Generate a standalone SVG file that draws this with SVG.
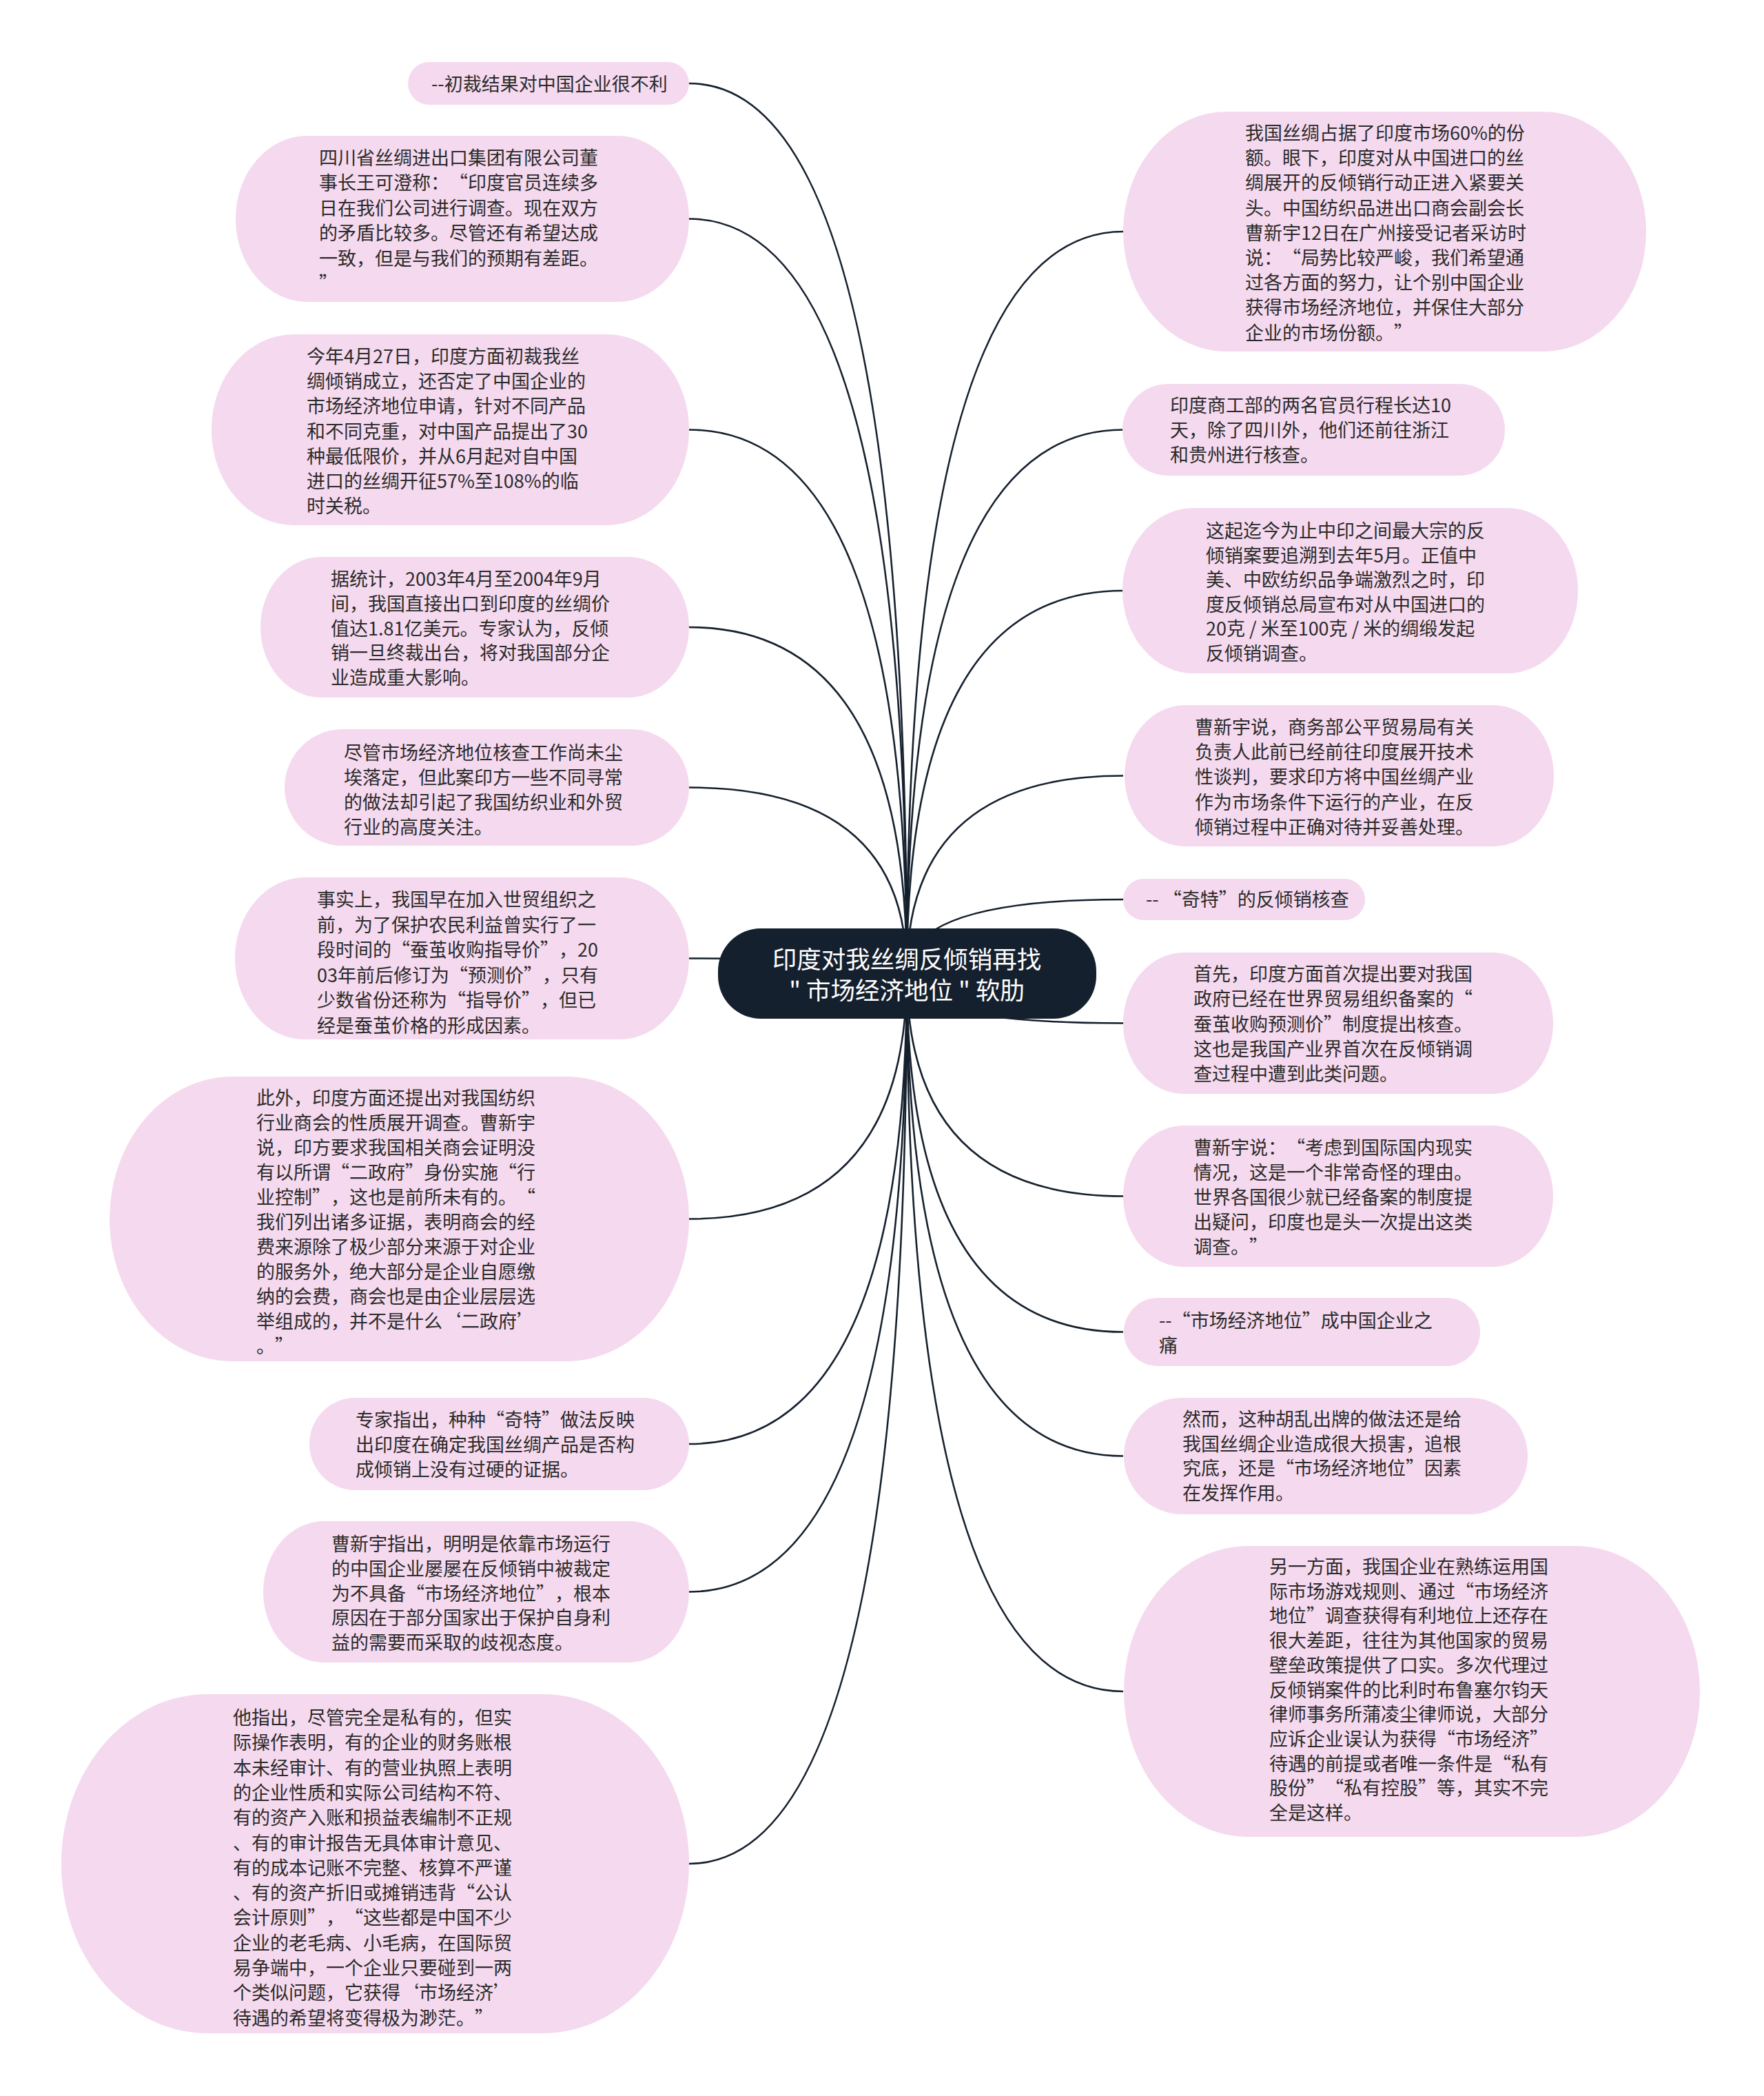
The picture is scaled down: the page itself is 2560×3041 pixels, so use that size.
<svg xmlns="http://www.w3.org/2000/svg" width="2560" height="3041" viewBox="0 0 2560 3041">
<style>
.bg{fill:#ffffff}
.conn path{fill:none;stroke:#15202e;stroke-width:2.6}
.node rect{fill:#f5d9ee}
.node text{font-family:"Noto Sans CJK SC","Microsoft YaHei","Noto Sans",sans-serif;font-size:27px;fill:#2b2b2b;text-spacing-trim:space-all}
.root rect{fill:#15202e}
.root text{font-family:"Noto Sans CJK SC","Microsoft YaHei","Noto Sans",sans-serif;font-size:35.5px;fill:#ffffff;text-anchor:middle}
</style>
<rect class="bg" x="0" y="0" width="2560" height="3041"/>
<g id="connectors" class="conn">
<path d="M1316 1412 Q1316 121 1000 121"/>
<path d="M1316 1412 Q1316 317.5 1000 317.5"/>
<path d="M1316 1412 Q1316 623.5 1000 623.5"/>
<path d="M1316 1412 Q1316 910 1000 910"/>
<path d="M1316 1412 Q1316 1142.5 1000 1142.5"/>
<path d="M1316 1412 Q1316 1390.5 1000 1390.5"/>
<path d="M1316 1412 Q1316 1768.5 1000 1768.5"/>
<path d="M1316 1412 Q1316 2095 1000 2095"/>
<path d="M1316 1412 Q1316 2309.5 1000 2309.5"/>
<path d="M1316 1412 Q1316 2704 1000 2704"/>
<path d="M1316 1412 Q1316 336 1630 336"/>
<path d="M1316 1412 Q1316 623.5 1630 623.5"/>
<path d="M1316 1412 Q1316 857 1630 857"/>
<path d="M1316 1412 Q1316 1125.5 1630 1125.5"/>
<path d="M1316 1412 Q1316 1305 1630 1305"/>
<path d="M1316 1412 Q1316 1484.5 1630 1484.5"/>
<path d="M1316 1412 Q1316 1735.5 1630 1735.5"/>
<path d="M1316 1412 Q1316 1932.5 1630 1932.5"/>
<path d="M1316 1412 Q1316 2112.5 1630 2112.5"/>
<path d="M1316 1412 Q1316 2454 1630 2454"/>
</g>
<g id="root" class="root">
<rect x="1042" y="1347" width="549" height="131" rx="62" ry="62"/>
<text x="1316" y="1405">印度对我丝绸反倾销再找</text>
<text x="1316" y="1450">" 市场经济地位 " 软肋</text>
</g>
<g id="n-l1" class="node">
<rect x="592" y="90" width="408" height="62" rx="31"/>
<text x="626" y="132">--初裁结果对中国企业很不利</text>
</g>
<g id="n-l2" class="node">
<rect x="342" y="197" width="658" height="241" rx="104" ry="120"/>
<text x="463" y="239"><tspan x="463" dy="0">四川省丝绸进出口集团有限公司董</tspan><tspan x="463" dy="36.4">事长王可澄称：“印度官员连续多</tspan><tspan x="463" dy="36.4">日在我们公司进行调查。现在双方</tspan><tspan x="463" dy="36.4">的矛盾比较多。尽管还有希望达成</tspan><tspan x="463" dy="36.4">一致，但是与我们的预期有差距。</tspan><tspan x="463" dy="36.4">”</tspan></text>
</g>
<g id="n-l3" class="node">
<rect x="307" y="485" width="693" height="277" rx="119" ry="138"/>
<text x="445" y="527"><tspan x="445" dy="0">今年4月27日，印度方面初裁我丝</tspan><tspan x="445" dy="36.2">绸倾销成立，还否定了中国企业的</tspan><tspan x="445" dy="36.2">市场经济地位申请，针对不同产品</tspan><tspan x="445" dy="36.2">和不同克重，对中国产品提出了30</tspan><tspan x="445" dy="36.2">种最低限价，并从6月起对自中国</tspan><tspan x="445" dy="36.2">进口的丝绸开征57%至108%的临</tspan><tspan x="445" dy="36.2">时关税。</tspan></text>
</g>
<g id="n-l4" class="node">
<rect x="378" y="808" width="622" height="204" rx="88" ry="102"/>
<text x="480" y="850"><tspan x="480" dy="0">据统计，2003年4月至2004年9月</tspan><tspan x="480" dy="35.8">间，我国直接出口到印度的丝绸价</tspan><tspan x="480" dy="35.8">值达1.81亿美元。专家认为，反倾</tspan><tspan x="480" dy="35.8">销一旦终裁出台，将对我国部分企</tspan><tspan x="480" dy="35.8">业造成重大影响。</tspan></text>
</g>
<g id="n-l5" class="node">
<rect x="413" y="1058" width="587" height="169" rx="84.5"/>
<text x="499" y="1102"><tspan x="499" dy="0">尽管市场经济地位核查工作尚未尘</tspan><tspan x="499" dy="36">埃落定，但此案印方一些不同寻常</tspan><tspan x="499" dy="36">的做法却引起了我国纺织业和外贸</tspan><tspan x="499" dy="36">行业的高度关注。</tspan></text>
</g>
<g id="n-l6" class="node">
<rect x="341" y="1273" width="659" height="235" rx="101" ry="117.5"/>
<text x="460" y="1315"><tspan x="460" dy="0">事实上，我国早在加入世贸组织之</tspan><tspan x="460" dy="36.5">前，为了保护农民利益曾实行了一</tspan><tspan x="460" dy="36.5">段时间的“蚕茧收购指导价”，20</tspan><tspan x="460" dy="36.5">03年前后修订为“预测价”，只有</tspan><tspan x="460" dy="36.5">少数省份还称为“指导价”，但已</tspan><tspan x="460" dy="36.5">经是蚕茧价格的形成因素。</tspan></text>
</g>
<g id="n-l7" class="node">
<rect x="159" y="1562" width="841" height="413" rx="178" ry="206.5"/>
<text x="372" y="1603"><tspan x="372" dy="0">此外，印度方面还提出对我国纺织</tspan><tspan x="372" dy="36">行业商会的性质展开调查。曹新宇</tspan><tspan x="372" dy="36">说，印方要求我国相关商会证明没</tspan><tspan x="372" dy="36">有以所谓“二政府”身份实施“行</tspan><tspan x="372" dy="36">业控制”，这也是前所未有的。“</tspan><tspan x="372" dy="36">我们列出诸多证据，表明商会的经</tspan><tspan x="372" dy="36">费来源除了极少部分来源于对企业</tspan><tspan x="372" dy="36">的服务外，绝大部分是企业自愿缴</tspan><tspan x="372" dy="36">纳的会费，商会也是由企业层层选</tspan><tspan x="372" dy="36">举组成的，并不是什么‘二政府’</tspan><tspan x="372" dy="36">。”</tspan></text>
</g>
<g id="n-l8" class="node">
<rect x="449" y="2028" width="551" height="134" rx="67"/>
<text x="516" y="2070"><tspan x="516" dy="0">专家指出，种种“奇特”做法反映</tspan><tspan x="516" dy="36">出印度在确定我国丝绸产品是否构</tspan><tspan x="516" dy="36">成倾销上没有过硬的证据。</tspan></text>
</g>
<g id="n-l9" class="node">
<rect x="382" y="2207" width="618" height="205" rx="88" ry="102.5"/>
<text x="481" y="2250"><tspan x="481" dy="0">曹新宇指出，明明是依靠市场运行</tspan><tspan x="481" dy="35.8">的中国企业屡屡在反倾销中被裁定</tspan><tspan x="481" dy="35.8">为不具备“市场经济地位”，根本</tspan><tspan x="481" dy="35.8">原因在于部分国家出于保护自身利</tspan><tspan x="481" dy="35.8">益的需要而采取的歧视态度。</tspan></text>
</g>
<g id="n-l10" class="node">
<rect x="89" y="2458" width="911" height="492" rx="212" ry="246"/>
<text x="338" y="2502"><tspan x="338" dy="0">他指出，尽管完全是私有的，但实</tspan><tspan x="338" dy="36.3">际操作表明，有的企业的财务账根</tspan><tspan x="338" dy="36.3">本未经审计、有的营业执照上表明</tspan><tspan x="338" dy="36.3">的企业性质和实际公司结构不符、</tspan><tspan x="338" dy="36.3">有的资产入账和损益表编制不正规</tspan><tspan x="338" dy="36.3">、有的审计报告无具体审计意见、</tspan><tspan x="338" dy="36.3">有的成本记账不完整、核算不严谨</tspan><tspan x="338" dy="36.3">、有的资产折旧或摊销违背“公认</tspan><tspan x="338" dy="36.3">会计原则”，“这些都是中国不少</tspan><tspan x="338" dy="36.3">企业的老毛病、小毛病，在国际贸</tspan><tspan x="338" dy="36.3">易争端中，一个企业只要碰到一两</tspan><tspan x="338" dy="36.3">个类似问题，它获得‘市场经济’</tspan><tspan x="338" dy="36.3">待遇的希望将变得极为渺茫。”</tspan></text>
</g>
<g id="n-r1" class="node">
<rect x="1630" y="162" width="759" height="348" rx="150" ry="174"/>
<text x="1807" y="203"><tspan x="1807" dy="0">我国丝绸占据了印度市场60%的份</tspan><tspan x="1807" dy="36.2">额。眼下，印度对从中国进口的丝</tspan><tspan x="1807" dy="36.2">绸展开的反倾销行动正进入紧要关</tspan><tspan x="1807" dy="36.2">头。中国纺织品进出口商会副会长</tspan><tspan x="1807" dy="36.2">曹新宇12日在广州接受记者采访时</tspan><tspan x="1807" dy="36.2">说：“局势比较严峻，我们希望通</tspan><tspan x="1807" dy="36.2">过各方面的努力，让个别中国企业</tspan><tspan x="1807" dy="36.2">获得市场经济地位，并保住大部分</tspan><tspan x="1807" dy="36.2">企业的市场份额。”</tspan></text>
</g>
<g id="n-r2" class="node">
<rect x="1629" y="557" width="555" height="133" rx="66.5"/>
<text x="1698" y="598"><tspan x="1698" dy="0">印度商工部的两名官员行程长达10</tspan><tspan x="1698" dy="36">天，除了四川外，他们还前往浙江</tspan><tspan x="1698" dy="36">和贵州进行核查。</tspan></text>
</g>
<g id="n-r3" class="node">
<rect x="1629" y="737" width="661" height="240" rx="103" ry="120"/>
<text x="1750" y="780"><tspan x="1750" dy="0">这起迄今为止中印之间最大宗的反</tspan><tspan x="1750" dy="35.6">倾销案要追溯到去年5月。正值中</tspan><tspan x="1750" dy="35.6">美、中欧纺织品争端激烈之时，印</tspan><tspan x="1750" dy="35.6">度反倾销总局宣布对从中国进口的</tspan><tspan x="1750" dy="35.6">20克 / 米至100克 / 米的绸缎发起</tspan><tspan x="1750" dy="35.6">反倾销调查。</tspan></text>
</g>
<g id="n-r4" class="node">
<rect x="1632" y="1023" width="623" height="205" rx="88" ry="102.5"/>
<text x="1734" y="1065"><tspan x="1734" dy="0">曹新宇说，商务部公平贸易局有关</tspan><tspan x="1734" dy="36.2">负责人此前已经前往印度展开技术</tspan><tspan x="1734" dy="36.2">性谈判，要求印方将中国丝绸产业</tspan><tspan x="1734" dy="36.2">作为市场条件下运行的产业，在反</tspan><tspan x="1734" dy="36.2">倾销过程中正确对待并妥善处理。</tspan></text>
</g>
<g id="n-r5" class="node">
<rect x="1630" y="1275" width="351" height="60" rx="30"/>
<text x="1663" y="1315">-- “奇特”的反倾销核查</text>
</g>
<g id="n-r6" class="node">
<rect x="1630" y="1382" width="624" height="205" rx="88" ry="102.5"/>
<text x="1732" y="1423"><tspan x="1732" dy="0">首先，印度方面首次提出要对我国</tspan><tspan x="1732" dy="36.3">政府已经在世界贸易组织备案的“</tspan><tspan x="1732" dy="36.3">蚕茧收购预测价”制度提出核查。</tspan><tspan x="1732" dy="36.3">这也是我国产业界首次在反倾销调</tspan><tspan x="1732" dy="36.3">查过程中遭到此类问题。</tspan></text>
</g>
<g id="n-r7" class="node">
<rect x="1630" y="1633" width="624" height="205" rx="88" ry="102.5"/>
<text x="1732" y="1675"><tspan x="1732" dy="0">曹新宇说：“考虑到国际国内现实</tspan><tspan x="1732" dy="36">情况，这是一个非常奇怪的理由。</tspan><tspan x="1732" dy="36">世界各国很少就已经备案的制度提</tspan><tspan x="1732" dy="36">出疑问，印度也是头一次提出这类</tspan><tspan x="1732" dy="36">调查。”</tspan></text>
</g>
<g id="n-r8" class="node">
<rect x="1631" y="1883" width="517" height="99" rx="49.5"/>
<text x="1682" y="1926"><tspan x="1682" dy="0">--“市场经济地位”成中国企业之</tspan><tspan x="1682" dy="36">痛</tspan></text>
</g>
<g id="n-r9" class="node">
<rect x="1631" y="2028" width="586" height="169" rx="84.5"/>
<text x="1716" y="2069"><tspan x="1716" dy="0">然而，这种胡乱出牌的做法还是给</tspan><tspan x="1716" dy="35.7">我国丝绸企业造成很大损害，追根</tspan><tspan x="1716" dy="35.7">究底，还是“市场经济地位”因素</tspan><tspan x="1716" dy="35.7">在发挥作用。</tspan></text>
</g>
<g id="n-r10" class="node">
<rect x="1631" y="2243" width="836" height="422" rx="181" ry="211"/>
<text x="1842" y="2283"><tspan x="1842" dy="0">另一方面，我国企业在熟练运用国</tspan><tspan x="1842" dy="35.7">际市场游戏规则、通过“市场经济</tspan><tspan x="1842" dy="35.7">地位”调查获得有利地位上还存在</tspan><tspan x="1842" dy="35.7">很大差距，往往为其他国家的贸易</tspan><tspan x="1842" dy="35.7">壁垒政策提供了口实。多次代理过</tspan><tspan x="1842" dy="35.7">反倾销案件的比利时布鲁塞尔钧天</tspan><tspan x="1842" dy="35.7">律师事务所蒲凌尘律师说，大部分</tspan><tspan x="1842" dy="35.7">应诉企业误认为获得“市场经济”</tspan><tspan x="1842" dy="35.7">待遇的前提或者唯一条件是“私有</tspan><tspan x="1842" dy="35.7">股份”“私有控股”等，其实不完</tspan><tspan x="1842" dy="35.7">全是这样。</tspan></text>
</g>
</svg>
